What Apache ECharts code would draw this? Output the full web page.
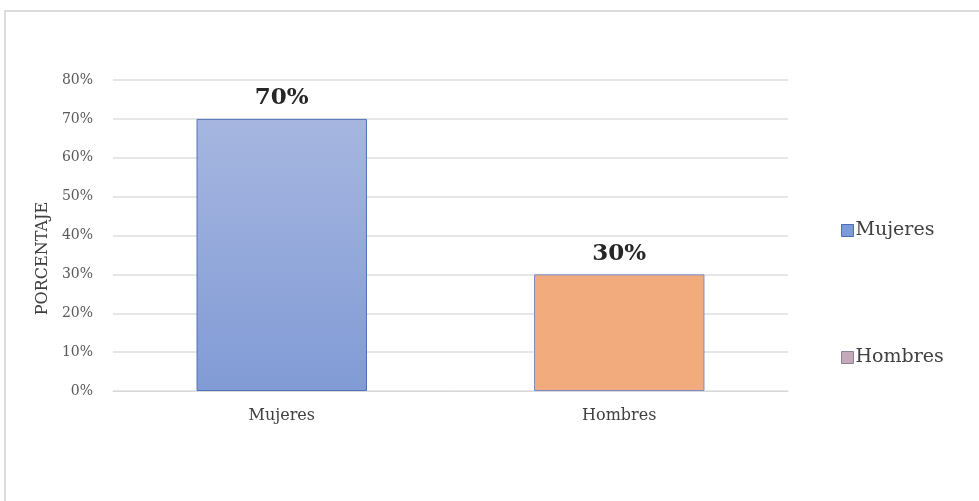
<!DOCTYPE html>
<html>
<head>
<meta charset="utf-8">
<script src="https://cdn.jsdelivr.net/npm/echarts@6/dist/echarts.min.js"></script>
<style>
  html, body { margin: 0; padding: 0; background: #fff; }
  #frame {
    position: absolute; left: 4px; top: 10px; right: 0; bottom: 0;
    border-left: 2px solid #dcdcdc; border-top: 2px solid #dcdcdc;
  }
  #chart { position: absolute; left: 0; top: 0; width: 979px; height: 501px; }
</style>
</head>
<body>
<div id="frame"></div>
<div id="chart"></div>
<script>
// datos
const categorias = ["Mujeres", "Hombres"];
const valoresMujeres = [70, "-"];
const valoresHombres = ["-", 30];
const marcasY = [0, 10, 20, 30, 40, 50, 60, 70, 80];

const serif = "DejaVu Serif";
const chart = echarts.init(document.getElementById("chart"));

const etiqueta = {
  show: true,
  position: "top",
  distance: 9,
  formatter: "{c}%",
  fontFamily: serif,
  fontWeight: "bold",
  fontSize: 23,
  color: "#262626",
};

chart.setOption({
  animation: false,
  grid: { left: 113, right: 191, top: 80, bottom: 110 },
  legend: {
    orient: "vertical",
    left: 836,
    top: 216,
    itemGap: 108,
    itemWidth: 12,
    itemHeight: 12,
    icon: "rect",
    textStyle: { fontFamily: serif, fontSize: 19, color: "#404040", padding: [0, 0, 0, -3] },
    data: [
      { name: "Mujeres", itemStyle: { color: "#7f9bd6", borderColor: "#4a6fb5", borderWidth: 1 } },
      { name: "Hombres", itemStyle: { color: "#c4a9b8", borderColor: "#8c7f99", borderWidth: 1 } },
    ],
  },
  xAxis: {
    type: "category",
    data: categorias,
    axisTick: { show: false },
    axisLine: { lineStyle: { color: "#d9d9d9" } },
    axisLabel: { fontFamily: serif, fontSize: 16, color: "#404040", margin: 17 },
  },
  yAxis: {
    type: "value",
    min: marcasY[0],
    max: marcasY[marcasY.length - 1],
    interval: 10,
    name: "PORCENTAJE",
    nameLocation: "middle",
    nameRotate: 90,
    nameGap: 61,
    nameTextStyle: { fontFamily: serif, fontSize: 16, color: "#404040", padding: [0, 46, 0, 0] },
    axisLine: { show: false },
    axisTick: { show: false },
    splitLine: { lineStyle: { color: "#dedede", width: 1.5 } },
    axisLabel: { formatter: "{value}%", fontFamily: serif, fontSize: 14, color: "#595959", margin: 20 },
  },
  series: [
    {
      name: "Mujeres",
      type: "bar",
      stack: "total",
      barWidth: "50.5%",
      data: valoresMujeres,
      label: etiqueta,
      itemStyle: {
        color: new echarts.graphic.LinearGradient(0, 0, 0, 1, [
          { offset: 0, color: "#a6b6e0" },
          { offset: 1, color: "#819bd6" },
        ]),
        borderColor: "#4f72b8",
        borderWidth: 1,
      },
    },
    {
      name: "Hombres",
      type: "bar",
      stack: "total",
      barWidth: "50.5%",
      data: valoresHombres,
      label: etiqueta,
      itemStyle: {
        color: "#f2ab7c",
        borderColor: "#7b8cc4",
        borderWidth: 1,
      },
    },
  ],
});
</script>
</body>
</html>
